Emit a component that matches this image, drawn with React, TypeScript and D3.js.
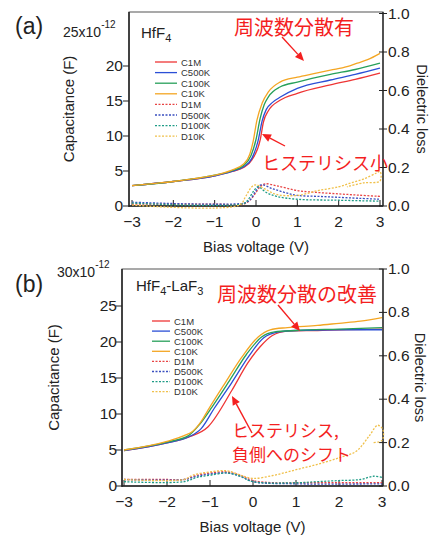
import React from 'react';
import * as d3 from 'd3';

type Pt = [number, number];

// ---- panel (a) HfF4 : capacitance (x1e-12 F) vs bias (V)
const aC1M: Pt[] = [[-3, 2.9], [-2, 3.5], [-1, 4.3], [-0.6, 4.9], [-0.3, 5.5], [-0.1, 6.6], [0.1, 9.4], [0.18, 12.0], [0.3, 13.6], [0.58, 15.1], [1, 16.1], [1.8, 17.3], [2.4, 18.1], [3, 19.0]];
const aC500K: Pt[] = [[-3, 2.9], [-2, 3.5], [-1, 4.3], [-0.6, 4.9], [-0.3, 5.6], [-0.1, 6.8], [0.05, 9.3], [0.15, 12.2], [0.25, 13.8], [0.4, 14.8], [0.6, 15.6], [1, 16.8], [1.8, 18.0], [2.4, 18.8], [3, 19.7]];
const aC100K: Pt[] = [[-3, 2.9], [-2, 3.5], [-1, 4.4], [-0.6, 5.0], [-0.3, 5.8], [-0.12, 7.2], [0, 9.5], [0.1, 12.5], [0.2, 14.5], [0.3, 15.6], [0.58, 17.0], [1, 17.7], [1.8, 18.8], [2.4, 19.5], [3, 20.4]];
const aC10K: Pt[] = [[-3, 2.9], [-2.5, 3.2], [-2, 3.5], [-1.5, 3.9], [-1, 4.4], [-0.6, 5.1], [-0.3, 6.0], [-0.15, 7.4], [-0.07, 9.2], [0.02, 12.2], [0.15, 14.7], [0.3, 16.3], [0.58, 17.7], [1, 18.4], [1.4, 18.9], [1.8, 19.4], [2.2, 19.9], [2.45, 20.4], [2.7, 20.9], [3, 21.8]];
// dielectric loss
const aD1M: Pt[] = [[-3, 0.01], [-1, 0.01], [-0.3, 0.01], [-0.15, 0.03], [0, 0.07], [0.1, 0.1], [0.22, 0.115], [0.5, 0.105], [1, 0.08], [1.5, 0.07], [2, 0.063], [2.5, 0.056], [3, 0.05]];
const aD500K: Pt[] = [[-3, 0.02], [-0.3, 0.015], [-0.15, 0.03], [0, 0.08], [0.12, 0.11], [0.4, 0.09], [0.7, 0.07], [1, 0.055], [1.5, 0.05], [2, 0.045], [2.5, 0.04], [3, 0.035]];
const aD100K: Pt[] = [[-3, 0.015], [-0.3, 0.012], [-0.2, 0.03], [-0.05, 0.08], [0.05, 0.1], [0.25, 0.07], [0.5, 0.05], [1, 0.035], [2, 0.03], [3, 0.025]];
const aD10K: Pt[] = [[-3, 0.005], [-0.4, 0.005], [-0.25, 0.05], [-0.1, 0.1], [0, 0.11], [0.2, 0.09], [0.5, 0.06], [1, 0.055], [1.5, 0.08], [2, 0.1], [2.3, 0.12], [2.6, 0.14], [2.9, 0.17], [3, 0.18], [3, 0.13], [2.6, 0.12], [2.2, 0.1]];

// ---- panel (b) HfF4-LaF3
const bC1M: Pt[] = [[-3, 4.9], [-2, 6.0], [-1.5, 6.8], [-1.05, 8.2], [-0.49, 13.3], [-0.12, 17.1], [0.16, 19.3], [0.45, 20.9], [0.8, 21.5], [1.5, 21.6], [2, 21.7], [3, 21.8]];
const bC500K: Pt[] = [[-3, 4.9], [-2, 6.0], [-1.5, 6.8], [-1.2, 8.0], [-0.9, 10.8], [-0.5, 14.3], [-0.1, 18.0], [0.25, 20.6], [0.6, 21.4], [1, 21.6], [2, 21.7], [3, 21.7]];
const bC100K: Pt[] = [[-3, 5.0], [-2, 6.1], [-1.5, 7.0], [-1.25, 8.5], [-0.95, 11.0], [-0.55, 14.6], [-0.15, 18.3], [0.2, 20.7], [0.5, 21.4], [1, 21.6], [2, 21.8], [3, 22.0]];
const bC10K: Pt[] = [[-3, 5.0], [-2, 6.2], [-1.6, 7.0], [-1.4, 7.6], [-1.2, 9.0], [-1.05, 10.5], [-0.65, 14.3], [-0.26, 17.9], [0.12, 20.7], [0.4, 21.7], [0.8, 22.0], [1.5, 22.3], [2, 22.6], [2.5, 22.9], [3, 23.4]];
const bD1M: Pt[] = [[-3, 0.03], [-2, 0.03], [-1.6, 0.03], [-1.3, 0.05], [-1, 0.06], [-0.6, 0.065], [-0.3, 0.05], [0, 0.025], [0.5, 0.015], [1, 0.015], [2, 0.015], [3, 0.015]];
const bD500K: Pt[] = [[-3, 0.03], [-1.6, 0.03], [-1.3, 0.045], [-1, 0.055], [-0.6, 0.06], [-0.3, 0.045], [0, 0.02], [1, 0.01], [3, 0.01]];
const bD100K: Pt[] = [[-3, 0.02], [-1.6, 0.02], [-1.3, 0.04], [-1, 0.05], [-0.6, 0.06], [-0.3, 0.045], [0, 0.02], [1, 0.015], [1.5, 0.02], [2, 0.025], [2.5, 0.03], [2.8, 0.045], [3, 0.04]];
const bD10K: Pt[] = [[-3, 0.03], [-1.6, 0.03], [-1.4, 0.05], [-1, 0.065], [-0.6, 0.07], [-0.3, 0.05], [0, 0.035], [0.5, 0.05], [1, 0.075], [1.5, 0.1], [2, 0.13], [2.4, 0.16], [2.7, 0.23], [2.9, 0.28], [3.02, 0.26], [3, 0.21], [2.8, 0.2]];

const seriesNames = ['C1M', 'C500K', 'C100K', 'C10K', 'D1M', 'D500K', 'D100K', 'D10K'];
const seriesColors = ['#ee3535', '#2b4fd6', '#27a05a', '#f4a623', '#e84444', '#3a4fc0', '#1f9c86', '#f0c04a'];
const xTicks = [-3, -2, -1, 0, 1, 2, 3];
const lossTicks = [0, 0.2, 0.4, 0.6, 0.8, 1.0];

const FONT = "'Liberation Sans', Arial, sans-serif";
const JP = "'Noto Sans CJK JP', sans-serif";
const RED = '#f41f1f';

function Arrow({ x1, y1, x2, y2 }: { x1: number; y1: number; x2: number; y2: number }) {
  const a = Math.atan2(y2 - y1, x2 - x1);
  const L = 9, W = 4;
  const bx = x2 - L * Math.cos(a), by = y2 - L * Math.sin(a);
  const px = -Math.sin(a) * W, py = Math.cos(a) * W;
  return (
    <g>
      <line x1={x1} y1={y1} x2={bx} y2={by} stroke={RED} strokeWidth={1.4} />
      <polygon points={`${x2},${y2} ${bx + px},${by + py} ${bx - px},${by - py}`} fill={RED} />
    </g>
  );
}

interface PanelProps {
  left: number; right: number; top: number; bottom: number;
  x0: number; x1: number; cTop: number; cTopPx: number; dTopPx: number;
  cTicks: number[];
  cSeries: Pt[][]; dSeries: Pt[][];
  letter: string; letterY: number;
  expLabel: string; expX: number; expY: number;
  capX: number; lossX: number;
  tickEnd: number;
  legX: number; legY: number; legStep: number; legLen: number;
  title: React.ReactNode;
}

function Panel(p: PanelProps) {
  const x = d3.scaleLinear().domain([-3, 3]).range([p.x0, p.x1]);
  const yC = d3.scaleLinear().domain([0, p.cTop]).range([p.bottom, p.cTopPx]);
  const yD = d3.scaleLinear().domain([0, 1]).range([p.bottom, p.dTopPx]);
  const cLine = d3.line<Pt>().x(d => x(d[0])).y(d => yC(d[1])).curve(d3.curveMonotoneX);
  const dLine = d3.line<Pt>().x(d => x(d[0])).y(d => yD(d[1])).curve(d3.curveCatmullRom);
  const midY = (p.top + p.bottom) / 2;
  return (
    <g>
      <text x={15} y={p.letterY} fontSize={23} fontFamily={FONT} fill="#222">{p.letter}</text>
      <text x={p.expX} y={p.expY} fontSize={14} fontFamily={FONT} fill="#222">
        {p.expLabel}x10<tspan dy={-9} fontSize={10}>-12</tspan>
      </text>
      {/* frame */}
      <rect x={p.left} y={p.top} width={p.right - p.left} height={p.bottom - p.top} fill="none" stroke="#555" strokeWidth={1} />
      <line x1={p.left} x2={p.left} y1={p.top} y2={p.bottom + 1} stroke="#222" strokeWidth={1.5} />
      <line x1={p.left} x2={p.right} y1={p.bottom} y2={p.bottom} stroke="#222" strokeWidth={1.5} />
      <line x1={p.right} x2={p.right} y1={p.top} y2={p.bottom} stroke="#222" strokeWidth={1.3} />
      {/* x ticks */}
      {xTicks.map(t => (
        <g key={'x' + t}>
          <line x1={x(t)} x2={x(t)} y1={p.bottom} y2={p.bottom - 6} stroke="#222" />
          <text x={x(t)} y={p.bottom + 21} textAnchor="middle" fontSize={15.5} fontFamily={FONT} fill="#222">{t < 0 ? '\u2212' + Math.abs(t) : t}</text>
        </g>
      ))}
      {/* left ticks */}
      {p.cTicks.map(t => (
        <g key={'c' + t}>
          <line x1={p.left - 6} x2={p.left} y1={yC(t)} y2={yC(t)} stroke="#222" />
          <text x={p.tickEnd} y={yC(t) + 5} textAnchor="end" fontSize={15.5} fontFamily={FONT} fill="#222">{t}</text>
        </g>
      ))}
      {/* right ticks */}
      {lossTicks.map(t => (
        <g key={'d' + t}>
          <line x1={p.right - 4} x2={p.right + 4} y1={yD(t)} y2={yD(t)} stroke="#222" />
          <text x={p.right + 5} y={yD(t) + 5} fontSize={15.5} fontFamily={FONT} fill="#222">{t.toFixed(1)}</text>
        </g>
      ))}
      <text transform={`translate(${p.capX},${midY}) rotate(-90)`} textAnchor="middle" fontSize={15} fontFamily={FONT} fill="#222">Capacitance (F)</text>
      <text transform={`translate(${p.lossX},${midY}) rotate(90)`} textAnchor="middle" fontSize={14.5} fontFamily={FONT} fill="#222">Dielectric loss</text>
      <text x={(p.left + p.right) / 2} y={p.bottom + 46} textAnchor="middle" fontSize={15} fontFamily={FONT} fill="#222">Bias voltage (V)</text>
      {/* loss curves */}
      {p.dSeries.map((s, i) => (
        <path key={'dl' + i} d={dLine(s) || ''} fill="none" stroke={seriesColors[i + 4]} strokeWidth={1.3} strokeDasharray="2 1.5" />
      ))}
      {/* capacitance curves */}
      {p.cSeries.map((s, i) => (
        <path key={'cl' + i} d={cLine(s) || ''} fill="none" stroke={seriesColors[i]} strokeWidth={1.3} />
      ))}
      {p.title}
      {/* legend */}
      {seriesNames.map((n, i) => {
        const yy = p.legY + i * p.legStep;
        return (
          <g key={n}>
            <line x1={p.legX} x2={p.legX + p.legLen} y1={yy} y2={yy} stroke={seriesColors[i]} strokeWidth={1.3} strokeDasharray={i >= 4 ? '2 1.5' : undefined} />
            <text x={p.legX + p.legLen + 4} y={yy + 3.5} fontSize={9.5} fontFamily={FONT} fill="#333">{n}</text>
          </g>
        );
      })}
    </g>
  );
}

export default function App() {
  return (
    <svg width={431} height={535} style={{ position: 'absolute', left: 0, top: 0, background: '#fff' }}>
      <Panel
        left={129} right={383} top={12} bottom={206}
        x0={132} x1={380} cTop={25} cTopPx={31} dTopPx={13.5}
        cTicks={[0, 5, 10, 15, 20]}
        cSeries={[aC1M, aC500K, aC100K, aC10K]} dSeries={[aD1M, aD500K, aD100K, aD10K]}
        letter="(a)" letterY={34} expLabel="25" expX={63} expY={37}
        capX={74} lossX={417} tickEnd={123}
        legX={155} legY={62} legStep={10.6} legLen={22}
        title={<text x={141} y={38} fontSize={15} fontFamily={FONT} fill="#222">HfF<tspan dy={4} fontSize={11}>4</tspan></text>}
      />
      <Panel
        left={122} right={383} top={269} bottom={486}
        x0={124} x1={382} cTop={30} cTopPx={270} dTopPx={269}
        cTicks={[0, 5, 10, 15, 20, 25]}
        cSeries={[bC1M, bC500K, bC100K, bC10K]} dSeries={[bD1M, bD500K, bD100K, bD10K]}
        letter="(b)" letterY={292} expLabel="30" expX={57} expY={277}
        capX={59} lossX={415} tickEnd={117}
        legX={152} legY={321} legStep={10.1} legLen={18}
        title={<text x={136} y={291} fontSize={15} fontFamily={FONT} fill="#222">HfF<tspan dy={4} fontSize={11}>4</tspan><tspan dy={-4}>-LaF</tspan><tspan dy={4} fontSize={11}>3</tspan></text>}
      />
      {/* annotations */}
      <text x={234} y={35} fontSize={20} fontFamily={JP} fill={RED}>周波数分散有</text>
      <Arrow x1={282} y1={37} x2={304} y2={61} />
      <text x={262} y={170} fontSize={18} fontFamily={JP} fill={RED}>ヒステリシス小</text>
      <Arrow x1={285} y1={146} x2={262} y2={134} />
      <text x={217} y={302} fontSize={20} fontFamily={JP} fill={RED}>周波数分散の改善</text>
      <Arrow x1={278} y1={305} x2={300} y2={331} />
      <text x={232} y={437} fontSize={17} fontFamily={JP} fill={RED}>ヒステリシス,</text>
      <text x={232} y={461} fontSize={17} fontFamily={JP} fill={RED}>負側へのシフト</text>
      <Arrow x1={252} y1={433} x2={232} y2={396} />
    </svg>
  );
}
